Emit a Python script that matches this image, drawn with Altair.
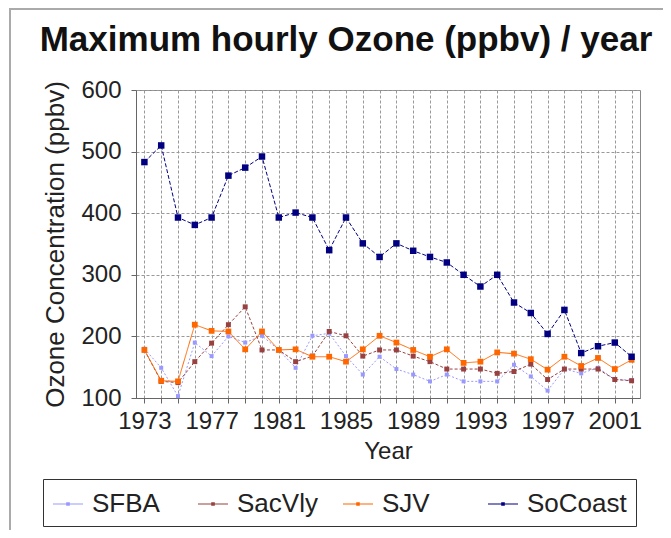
import altair as alt
import pandas as pd

years = list(range(1973, 2003))
series_names = ["SFBA", "SacVly", "SJV", "SoCoast"]

sfba = [180, 149, 103, 190, 168, 200, 190, 201, 178, 149, 201, 205, 168, 138, 167,
        147, 138, 127, 138, 127, 127, 127, 154, 135, 112, 147, 140, 149, 130, 129]
sacvly = [178, 127, 125, 159, 189, 219, 248, 178, 178, 159, 168, 208, 201, 168, 178,
          178, 168, 159, 147, 147, 147, 140, 143, 155, 130, 147, 147, 147, 130, 128]
sjv = [178, 128, 127, 219, 209, 208, 179, 208, 178, 179, 167, 167, 159, 179, 201,
       190, 178, 167, 179, 157, 159, 174, 172, 163, 146, 167, 152, 165, 147, 162]
socoast = [483, 510, 393, 381, 393, 461, 474, 492, 393, 401, 393, 340, 393, 351, 329,
           351, 339, 329, 320, 300, 281, 300, 255, 238, 204, 243, 173, 184, 190, 167]

y_ticks = [100, 200, 300, 400, 500, 600]

colors = ["#9999FF", "#994040", "#FF6600", "#000080"]
dashes = [[2, 2], [3, 2], [1, 0], [4, 2]]
sizes = [16, 42, 49, 49]

rows = []
for name, vals in zip(series_names, [sfba, sacvly, sjv, socoast]):
    for yr, v in zip(years, vals):
        rows.append({"Year": yr, "Value": v, "Series": name, "Line": name, "Mk": name})
df = pd.DataFrame(rows)

FONT = "Liberation Sans"

x_enc = alt.X(
    "Year:Q",
    scale=alt.Scale(domain=[1972.5, 2002.5], nice=False, zero=False),
    axis=alt.Axis(
        title="Year",
        values=years,
        format="d",
        labelExpr="(datum.value - 1973) % 4 == 0 ? datum.label : ''",
        labelOverlap=False,
        labelFlush=False,
        labelPadding=6,
        titlePadding=6,
        titleFontSize=24,
    ),
)
y_enc = alt.Y(
    "Value:Q",
    scale=alt.Scale(domain=[100, 600], nice=False, zero=False),
    axis=alt.Axis(
        title="Ozone Concentration (ppbv)",
        values=y_ticks,
        labelPadding=10,
        titlePadding=12,
        titleFontSize=26,
    ),
)

legend = alt.Legend(
    title=None,
    orient="none",
    legendX=-93,
    legendY=389,
    direction="horizontal",
    columns=4,
    gridAlign="all",
    columnPadding=5,
    padding=9,
    strokeColor="#333333",
    symbolType="M-1,-0.035H1V0.035H-1ZM-0.12,-0.12H0.12V0.12H-0.12Z",
    symbolSize=900,
    labelFontSize=26,
    labelFont=FONT,
    labelColor="#222222",
    labelOffset=8,
)

lines = alt.Chart(df).mark_line(strokeWidth=1).encode(
    x=x_enc,
    y=y_enc,
    stroke=alt.Stroke("Line:N", scale=alt.Scale(domain=series_names, range=colors), legend=None),
    strokeDash=alt.StrokeDash("Line:N", scale=alt.Scale(domain=series_names, range=dashes), legend=None),
    order=alt.Order("Year:Q"),
)

points = alt.Chart(df).mark_point(filled=True, shape="square", opacity=1).encode(
    x=x_enc,
    y=y_enc,
    color=alt.Color("Series:N", scale=alt.Scale(domain=series_names, range=colors), legend=legend),
    size=alt.Size("Mk:N", scale=alt.Scale(domain=series_names, range=sizes), legend=None),
)

frame = alt.Chart(pd.DataFrame({"f": [0]})).mark_rect(
    fillOpacity=0, stroke="#aaaaaa", strokeWidth=2
).encode(
    x=alt.value(-126), x2=alt.value(600), y=alt.value(-81), y2=alt.value(470)
)

chart = alt.layer(frame, lines, points).resolve_scale(
    color="independent", stroke="independent"
).properties(
    width=504,
    height=308,
    autosize=alt.AutoSizeParams(type="none"),
    padding={"left": 128, "top": 82, "right": 23, "bottom": 132},
    title=alt.TitleParams(
        "Maximum hourly Ozone (ppbv) / year",
        font=FONT,
        fontSize=35,
        fontWeight="bold",
        color="#111111",
        anchor="middle",
        baseline="alphabetic",
        dx=-42,
        offset=-78,
    ),
).configure_view(
    stroke="#888888", strokeWidth=1
).configure_axis(
    labelFont=FONT,
    titleFont=FONT,
    labelFontSize=24,
    labelColor="#222222",
    titleColor="#222222",
    titleFontWeight="normal",
    domainColor="#666666",
    tickColor="#666666",
    tickSize=5,
    gridColor="#999999",
    gridDash=[3, 2],
    gridWidth=1,
)

chart.save("out.html", embed_options={"renderer": "svg", "actions": False})
